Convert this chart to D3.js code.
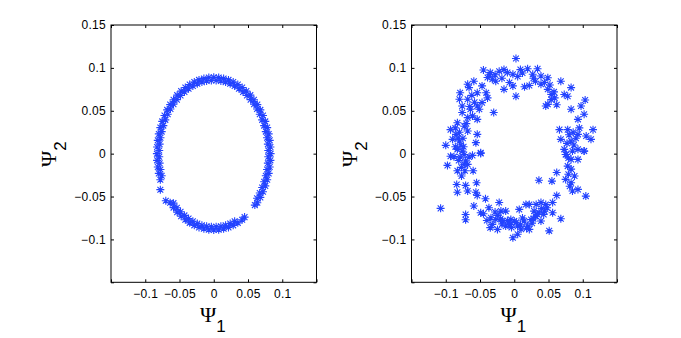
<!DOCTYPE html>
<html>
<head>
<meta charset="utf-8">
<script src="https://cdn.jsdelivr.net/npm/d3@7"></script>
<style>
  body { margin: 0; background: #fff; }
  .tick text { font-family: "Liberation Sans", Arial, sans-serif; font-size: 12px; letter-spacing: 0.3px; fill: #000; }
  .tick line { stroke: #000; }
</style>
</head>
<body>
<svg width="681" height="338"></svg>
<script>
var svg = d3.select("svg"),
    width = +svg.attr("width"),
    height = +svg.attr("height");

// ticks
var xTicks = [-0.1, -0.05, 0, 0.05, 0.1];
var yTicks = [-0.1, -0.05, 0, 0.05, 0.1, 0.15];
var allTicks = [-0.15, -0.1, -0.05, 0, 0.05, 0.1, 0.15];

// left panel: points (psi1, psi2)
var ringPoints = [
  // upper right
  [0.0830, 0.0000], [0.0827, 0.0078], [0.0817, 0.0155], [0.0802, 0.0230], [0.0780, 0.0304],
  [0.0752, 0.0376], [0.0719, 0.0445], [0.0680, 0.0510], [0.0636, 0.0572], [0.0587, 0.0629],
  [0.0534, 0.0682], [0.0476, 0.0729], [0.0415, 0.0771], [0.0351, 0.0807], [0.0284, 0.0836],
  [0.0215, 0.0860], [0.0144, 0.0876], [0.0072, 0.0887], [0.0000, 0.0890],
  [0.0796, 0.0037], [0.0790, 0.0111], [0.0778, 0.0185], [0.0760, 0.0257], [0.0736, 0.0327],
  [0.0707, 0.0394], [0.0672, 0.0459], [0.0632, 0.0520], [0.0588, 0.0577], [0.0538, 0.0630],
  [0.0485, 0.0678], [0.0428, 0.0720], [0.0368, 0.0757], [0.0305, 0.0789], [0.0240, 0.0815],
  [0.0173, 0.0834], [0.0104, 0.0847], [0.0035, 0.0853],
  // upper left
  [-0.0830, 0.0000], [-0.0827, 0.0078], [-0.0817, 0.0155], [-0.0802, 0.0230], [-0.0780, 0.0304],
  [-0.0752, 0.0376], [-0.0719, 0.0445], [-0.0680, 0.0510], [-0.0636, 0.0572], [-0.0587, 0.0629],
  [-0.0534, 0.0682], [-0.0476, 0.0729], [-0.0415, 0.0771], [-0.0351, 0.0807], [-0.0284, 0.0836],
  [-0.0215, 0.0860], [-0.0144, 0.0876], [-0.0072, 0.0887],
  [-0.0796, 0.0037], [-0.0790, 0.0111], [-0.0778, 0.0185], [-0.0760, 0.0257], [-0.0736, 0.0327],
  [-0.0707, 0.0394], [-0.0672, 0.0459], [-0.0632, 0.0520], [-0.0588, 0.0577], [-0.0538, 0.0630],
  [-0.0485, 0.0678], [-0.0428, 0.0720], [-0.0368, 0.0757], [-0.0305, 0.0789], [-0.0240, 0.0815],
  [-0.0173, 0.0834], [-0.0104, 0.0847], [-0.0035, 0.0853],
  // lower left
  [-0.0827, -0.0078], [-0.0817, -0.0155], [-0.0802, -0.0230], [-0.0780, -0.0304],
  [-0.0796, -0.0037], [-0.0790, -0.0111], [-0.0778, -0.0185], [-0.0760, -0.0257],
  [-0.0780, -0.0420], [-0.0700, -0.0550],
  [-0.0636, -0.0572], [-0.0587, -0.0629], [-0.0534, -0.0682], [-0.0476, -0.0729], [-0.0415, -0.0771],
  [-0.0351, -0.0807], [-0.0284, -0.0836], [-0.0215, -0.0860], [-0.0144, -0.0876], [-0.0072, -0.0887],
  [0.0000, -0.0890],
  [-0.0588, -0.0577], [-0.0538, -0.0630], [-0.0485, -0.0678], [-0.0428, -0.0720], [-0.0368, -0.0757],
  [-0.0305, -0.0789], [-0.0240, -0.0815], [-0.0173, -0.0834], [-0.0104, -0.0847], [-0.0035, -0.0853],
  // lower right
  [0.0072, -0.0887], [0.0144, -0.0876], [0.0215, -0.0860], [0.0284, -0.0836], [0.0351, -0.0807],
  [0.0415, -0.0771],
  [0.0035, -0.0853], [0.0104, -0.0847], [0.0173, -0.0834], [0.0240, -0.0815], [0.0305, -0.0789],
  [0.0450, -0.0740], [0.0600, -0.0600],
  [0.0636, -0.0572], [0.0680, -0.0510], [0.0719, -0.0445], [0.0752, -0.0376], [0.0780, -0.0304],
  [0.0802, -0.0230], [0.0817, -0.0155], [0.0827, -0.0078],
  [0.0632, -0.0520], [0.0672, -0.0459], [0.0707, -0.0394], [0.0736, -0.0327], [0.0760, -0.0257],
  [0.0778, -0.0185], [0.0790, -0.0111], [0.0796, -0.0037]
];

// right panel: scattered points (psi1, psi2)
var scatterPoints = [
  [0.0025, 0.111], [-0.045, 0.0975], [-0.035, 0.0945], [-0.022, 0.096], [-0.015, 0.098],
  [-0.010, 0.0945], [-0.002, 0.0925], [0.009, 0.098], [0.0195, 0.099], [0.034, 0.099],
  [0.027, 0.0925], [0.039, 0.0905], [0.049, 0.0885], [0.068, 0.0845], [0.083, 0.077],
  [0.073, 0.069], [0.078, 0.067], [0.1035, 0.0625], [0.0975, 0.0555], [0.083, 0.0517],
  [0.093, 0.040], [0.102, 0.046], [0.115, 0.028], [0.112, 0.0167], [0.105, 0.0205],
  [0.093, 0.0225], [0.078, 0.028], [0.066, 0.028], [0.068, 0.0167], [0.083, 0.0147],
  [0.073, 0.005], [0.076, -0.001], [0.093, 0.005], [0.102, 0.003], [0.049, 0.0575],
  [0.046, 0.0555], [0.054, 0.063], [0.049, 0.075], [0.054, 0.069], [0.059, 0.065],
  [0.039, 0.081], [0.031, 0.0845], [0.022, 0.0795], [0.015, 0.078], [0.0025, 0.067],
  [-0.002, 0.079], [-0.015, 0.075], [-0.007, 0.083], [-0.027, 0.0845], [-0.032, 0.0867],
  [-0.039, 0.0887], [-0.047, 0.079], [-0.041, 0.071], [-0.039, 0.065], [-0.054, 0.071],
  [-0.059, 0.0845], [-0.068, 0.081], [-0.066, 0.077], [-0.079, 0.071], [-0.080, 0.0635],
  [-0.068, 0.0635], [-0.076, 0.0555], [-0.054, 0.0555], [-0.047, 0.0595], [-0.030, 0.048],
  [-0.051, 0.0517], [-0.064, 0.0517], [-0.061, 0.044], [-0.068, 0.042], [-0.076, 0.048],
  [-0.054, 0.040], [-0.073, 0.032], [-0.083, 0.036], [-0.068, 0.0264], [-0.093, 0.028],
  [-0.085, 0.0225], [-0.090, 0.0167], [-0.080, 0.0147], [-0.054, 0.0225], [-0.056, 0.0128],
  [-0.100, 0.0097], [-0.083, 0.005], [-0.076, 0.003], [-0.049, 0.001], [-0.093, -0.003],
  [-0.0975, -0.0137], [-0.088, -0.0035], [-0.073, -0.001], [-0.071, -0.0086], [-0.068, -0.0125],
  [-0.073, -0.0125], [-0.061, -0.002], [-0.060, -0.020], [-0.077, -0.026], [-0.049, 0.0003],
  [-0.084, -0.036], [-0.071, -0.037], [-0.083, -0.045], [-0.068, -0.0436], [-0.055, -0.034],
  [-0.056, -0.045], [-0.054, -0.0487], [-0.059, -0.061], [-0.1075, -0.0638], [-0.071, -0.071],
  [-0.071, -0.077], [-0.042, -0.0525], [-0.037, -0.063], [-0.049, -0.0689], [-0.034, -0.0747],
  [-0.035, -0.0863], [-0.032, -0.0825], [-0.027, -0.0767], [-0.022, -0.057], [-0.0195, -0.067],
  [-0.0125, -0.067], [-0.0245, -0.0883], [-0.017, -0.0786], [-0.0125, -0.0845], [-0.005, -0.0767],
  [-0.002, -0.098], [-0.007, -0.0825], [0.000, -0.0786], [0.005, -0.0845], [0.0073, -0.065],
  [0.005, -0.094], [0.0146, -0.0786], [0.017, -0.0592], [0.022, -0.0592], [0.0195, -0.0845],
  [0.0245, -0.0767], [0.022, -0.0883], [0.029, -0.067], [0.034, -0.071], [0.032, -0.0592],
  [0.039, -0.057], [0.044, -0.067], [0.046, -0.0592], [0.039, -0.0786], [0.051, -0.090],
  [0.056, -0.057], [0.056, -0.0689], [0.068, -0.0759], [0.036, -0.031], [0.055, -0.032],
  [0.062, -0.0487], [0.062, -0.022], [0.075, -0.001], [0.078, -0.0145], [0.079, -0.024],
  [0.075, -0.030], [0.083, -0.034], [0.088, -0.026], [0.085, -0.0436], [0.093, -0.0417],
  [0.1045, -0.0495], [0.093, -0.0067], [0.085, 0.003], [0.102, 0.003], [0.083, -0.0067],
  [-0.080, 0.025], [-0.078, 0.010], [-0.086, 0.008], [-0.075, 0.018], [-0.081, -0.008],
  [-0.077, -0.016], [-0.072, -0.020], [-0.086, 0.030], [-0.070, 0.035], [-0.065, 0.055],
  [-0.058, 0.060], [-0.062, 0.068],
  [-0.028, -0.068], [-0.024, -0.072], [-0.018, -0.082], [-0.010, -0.078], [-0.004, -0.086],
  [0.003, -0.080], [0.009, -0.083], [0.012, -0.075], [0.018, -0.087], [0.026, -0.081],
  [0.031, -0.073], [0.040, -0.064], [0.048, -0.063], [0.036, -0.069], [-0.040, -0.078],
  [-0.045, -0.070],
  [-0.028, 0.092], [-0.018, 0.088], [0.005, 0.090], [0.028, 0.088], [0.044, 0.083],
  [0.058, 0.072], [0.062, 0.057],
  [0.080, 0.022], [0.087, 0.010], [0.079, -0.005], [0.083, -0.018], [0.090, 0.018],
  [0.095, 0.030], [0.081, -0.038],
  [-0.082, 0.018], [-0.079, -0.004], [-0.074, 0.008], [-0.083, -0.020], [-0.066, -0.004],
  [-0.020, -0.076], [-0.008, -0.081], [0.010, -0.088], [0.043, -0.071], [0.028, -0.076],
  [-0.036, 0.092], [0.012, 0.094], [0.052, 0.080], [0.086, 0.025], [0.077, 0.012]
];

svg.append("rect")
    .attr("width", width)
    .attr("height", height)
    .attr("fill", "white");

var asterisk = "M-4,0H4M0,-4V4M-2.9,-2.9L2.9,2.9M-2.9,2.9L2.9,-2.9";

function fmt(d) {
    if (d === 0) return "0";
    return (d < 0 ? "\u2212" : "") + String(Math.abs(d));
}

function panel(left, data) {
    var x = d3.scaleLinear().domain([-0.15, 0.15]).range([left, left + 205.5]);
    var y = d3.scaleLinear().domain([-0.15, 0.15]).range([282.3, 25]);
    var g = svg.append("g");

    // inward ticks on all four sides
    g.append("g").attr("transform", "translate(0," + y.range()[0] + ")")
        .call(d3.axisBottom(x).tickValues(allTicks).tickSizeInner(-3).tickSizeOuter(0).tickFormat(""));
    g.append("g").attr("transform", "translate(0," + y.range()[1] + ")")
        .call(d3.axisTop(x).tickValues(allTicks).tickSizeInner(-3).tickSizeOuter(0).tickFormat(""));
    g.append("g").attr("transform", "translate(" + x.range()[0] + ",0)")
        .call(d3.axisLeft(y).tickValues(allTicks).tickSizeInner(-3).tickSizeOuter(0).tickFormat(""));
    g.append("g").attr("transform", "translate(" + x.range()[1] + ",0)")
        .call(d3.axisRight(y).tickValues(allTicks).tickSizeInner(-3).tickSizeOuter(0).tickFormat(""));
    g.selectAll(".domain").remove();

    // tick labels
    g.append("g").attr("transform", "translate(0," + y.range()[0] + ")")
        .call(d3.axisBottom(x).tickValues(xTicks).tickSize(0).tickPadding(7).tickFormat(fmt))
        .select(".domain").remove();
    g.append("g").attr("transform", "translate(" + x.range()[0] + ",0)")
        .call(d3.axisLeft(y).tickValues(yTicks).tickSize(0).tickPadding(5).tickFormat(fmt))
        .select(".domain").remove();

    g.append("rect")
        .attr("x", x.range()[0]).attr("y", y.range()[1])
        .attr("width", x.range()[1] - x.range()[0])
        .attr("height", y.range()[0] - y.range()[1])
        .attr("fill", "none").attr("stroke", "#000").attr("stroke-width", 1);

    g.append("g").selectAll("path")
        .data(data)
        .enter().append("path")
        .attr("d", asterisk)
        .attr("transform", function (d) { return "translate(" + x(d[0]) + "," + y(d[1]) + ")"; })
        .attr("fill", "none")
        .attr("stroke", "#2343ff")
        .attr("stroke-width", 1.1);

    // axis titles
    var xl = g.append("text")
        .attr("x", left + 89).attr("y", 321.5)
        .attr("font-family", "Liberation Serif, serif").attr("font-size", 22);
    xl.append("tspan").text("\u03A8");
    xl.append("tspan").attr("dy", 10).attr("font-family", "Liberation Sans, sans-serif")
        .attr("font-size", 17).text("1");

    var yl = g.append("text")
        .attr("transform", "translate(" + (left - 55) + ",167) rotate(-90)")
        .attr("font-family", "Liberation Serif, serif").attr("font-size", 22);
    yl.append("tspan").text("\u03A8");
    yl.append("tspan").attr("dy", 10).attr("font-family", "Liberation Sans, sans-serif")
        .attr("font-size", 17).text("2");
}

panel(111, ringPoints);
panel(411.5, scatterPoints);
</script>
</body>
</html>
